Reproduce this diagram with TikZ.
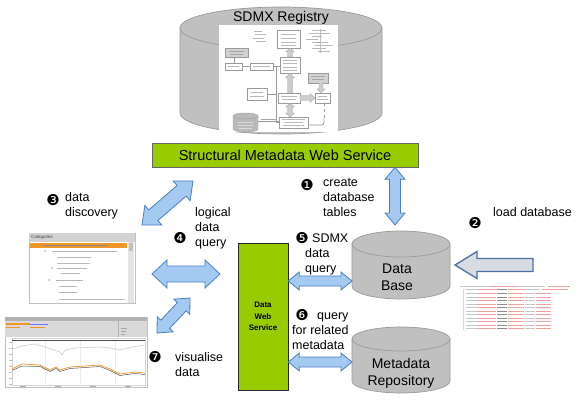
\documentclass[tikz,border=0pt]{standalone}
\usepackage{fontspec}
\setmainfont{Liberation Sans}
\newfontfamily\dingfont{DejaVu Sans}
\usetikzlibrary{calc}
\definecolor{sdmxgreen}{HTML}{99CC00}
\definecolor{arrowblue}{HTML}{A4CAF2}
\definecolor{arrowedge}{HTML}{4A7EC0}
\definecolor{cylfill}{HTML}{C0C0C0}
\definecolor{cyledge}{HTML}{9A9A9A}
\definecolor{loadfill}{HTML}{D8DCE2}
\definecolor{loadedge}{HTML}{4E6EA8}
\definecolor{shotgray}{HTML}{9A9A9A}
\definecolor{orangerow}{HTML}{F0952A}
\definecolor{xmlred}{HTML}{F0A09A}
% double-headed block arrow: style, A, B, shaft half width, head half width, head length
\newcommand\fatarrow[6]{%
 \draw[#1] (#2)
  -- ($(#2)!#6!(#3)!#5!90:(#3)$)
  -- ($(#2)!#6!(#3)!#4!90:(#3)$)
  -- ($(#3)!#6!(#2)!#4!-90:(#2)$)
  -- ($(#3)!#6!(#2)!#5!-90:(#2)$)
  -- (#3)
  -- ($(#3)!#6!(#2)!#5!90:(#2)$)
  -- ($(#3)!#6!(#2)!#4!90:(#2)$)
  -- ($(#2)!#6!(#3)!#4!-90:(#3)$)
  -- ($(#2)!#6!(#3)!#5!-90:(#3)$)
  -- cycle;}
% single-headed block arrow: style, tip, tail, shaft half width, head half width, head length
\newcommand\fatsingle[6]{%
 \draw[#1] (#2)
  -- ($(#2)!#6!(#3)!#5!90:(#3)$)
  -- ($(#2)!#6!(#3)!#4!90:(#3)$)
  -- ($(#3)!#4!-90:(#2)$)
  -- ($(#3)!#4!90:(#2)$)
  -- ($(#2)!#6!(#3)!#4!-90:(#3)$)
  -- ($(#2)!#6!(#3)!#5!-90:(#3)$)
  -- cycle;}
% cylinder: style, xl, xr, y top-ellipse centre, y bottom-ellipse centre, ry
\newcommand\drawcyl[6]{%
 \pgfmathsetmacro\cxc{(#2+#3)/2}%
 \pgfmathsetmacro\crx{(#3-#2)/2}%
 \filldraw[#1] (#2,#4) -- (#2,#5)
   .. controls (#2,#5+0.5523*#6) and (\cxc-0.5523*\crx,#5+#6) .. (\cxc,#5+#6)
   .. controls (\cxc+0.5523*\crx,#5+#6) and (#3,#5+0.5523*#6) .. (#3,#5)
   -- (#3,#4) -- cycle;
 \filldraw[#1] (\cxc,#4) ellipse [x radius=\crx pt, y radius=#6 pt];}
\begin{document}
\begin{tikzpicture}[x=1pt,y=-1pt,
  lbl/.style={font=\fontsize{12.5}{15}\selectfont, inner sep=0, anchor=base west},
  big/.style={font=\fontsize{14}{17}\selectfont, inner sep=0, anchor=base},
  numc/.style={font=\dingfont\fontsize{15}{15}\selectfont, inner sep=0},
  cylstyle/.style={fill=cylfill, draw=cyledge, line width=0.7pt},
  bluearrow/.style={fill=arrowblue, draw=arrowedge, line width=0.8pt, line join=miter},
  loadarrow/.style={fill=loadfill, draw=loadedge, line width=1.3pt, line join=miter},
  greenbox/.style={fill=sdmxgreen, draw=black!60, line width=0.6pt, inner sep=0},
  shotbox/.style={draw=shotgray, line width=0.4pt, fill=white},
  shotfill/.style={draw=shotgray, line width=0.4pt, fill=gray!35},
  txt/.style={draw=gray!55, line width=0.6pt},
  garrow/.style={fill=gray!40, draw=gray!70, line width=0.3pt}]
\useasboundingbox (0,0) rectangle (576,409);

% ---------------- SDMX Registry cylinder
\drawcyl{cylstyle}{180}{382}{28}{113}{21}
\node[big] (regtitle) at (281,22) {SDMX Registry};
% registry screenshot
\fill[white] (219,25) rectangle (338,132);
\draw[txt] (254,31)--(262,31) (255,34.5)--(266,34.5) (253,38)--(264,38) (256,41.5)--(266,41.5);
\draw[shotbox] (277,30) rectangle (300,48);
\foreach \yy in {34,38,42,45} \draw[txt] (281,\yy)--(296,\yy);
\foreach \yy/\xa/\xb in {30/312/326, 33/309/330, 36/312/322, 39/306/318, 42/312/328, 45/315/333, 48/312/326, 51/318/330}
  \draw[txt] (\xa,\yy)--(\xb,\yy);
\draw[gray!50, line width=0.4pt] (320,29)--(320,53);
\draw[shotfill] (225,48) rectangle (248,57);
\draw[gray!70, line width=0.6pt] (229,51)--(244,51) (230,54)--(243,54);
\draw[shotgray, line width=0.5pt] (234,57)--(234,63);
\draw[shotbox] (225,63) rectangle (242,70);
\draw[txt] (228,66.5)--(239,66.5);
\draw[shotbox] (250,63) rectangle (273,70);
\draw[txt] (253,66.5)--(270,66.5);
\draw[shotgray, line width=0.5pt] (242,66.5)--(250,66.5) (273,66.5)--(280,66.5);
\draw[shotbox] (280,57) rectangle (300,73);
\foreach \yy in {60,63.5,67,70} \draw[txt] (283,\yy)--(297,\yy);
\fatsingle{garrow}{290,48}{290,57}{2.5pt}{4.5pt}{4pt}
\draw[shotbox] (278,93) rectangle (300,103);
\draw[txt] (281,96.5)--(297,96.5) (282,99.5)--(296,99.5);
\fatsingle{garrow}{290,73}{290,93}{2.5pt}{4.5pt}{5pt}
\draw[shotbox] (279,117) rectangle (308,128);
\draw[txt] (282,119.5)--(305,119.5) (284,122.5)--(303,122.5) (283,125.5)--(304,125.5);
\fatarrow{garrow}{290,103}{290,117}{2.5pt}{4.5pt}{4pt}
\draw[shotfill] (308,73) rectangle (328,83);
\draw[gray!70, line width=0.6pt] (311,76.5)--(325,76.5) (312,79.5)--(324,79.5);
\fatsingle{garrow}{321,93}{321,83}{2pt}{4pt}{4pt}
\draw[shotbox] (315,93) rectangle (330,103);
\draw[txt] (318,96.5)--(327,96.5) (317,99.5)--(328,99.5);
\fatsingle{garrow}{315,98}{300,98}{2.5pt}{4.5pt}{5pt}
\draw[shotbox] (247,88) rectangle (267,100);
\draw[txt] (251,92)--(263,92) (250,96)--(264,96);
\draw[shotgray, line width=0.5pt] (267,94)--(276,94) (276,66.5)--(276,122)--(279,122);
\draw[shotgray, line width=0.5pt, dashed] (324,103)--(324,119);
\draw[shotgray, line width=0.8pt] (324,119) .. controls (324,125) .. (318,125) -- (308,125);
\draw[fill=gray!55, draw=gray!70, line width=0.4pt] (233,116) -- (233,129) .. controls (233,133) and (258,133) .. (258,129) -- (258,116) .. controls (258,112) and (233,112) .. (233,116) -- cycle;
\draw[gray!75, line width=0.4pt] (233,116) .. controls (233,120) and (258,120) .. (258,116);
\draw[gray!30, line width=0.6pt] (238,122)--(253,122) (237,125)--(254,125) (239,128)--(252,128);
\draw[shotgray, line width=0.4pt] (258,121)--(279,121);
\draw[gray!70, line width=0.6pt] (261,119)--(276,119);

% ---------------- Structural Metadata Web Service bar
\node[greenbox, minimum width=266pt, minimum height=24pt, font=\fontsize{14.5}{17}\selectfont] (smws) at (285,155) {Structural Metadata Web Service};

% ---------------- Data Web Service box
\node[greenbox, draw=black!85, minimum width=50pt, minimum height=147pt, align=center, font=\bfseries\fontsize{8}{11.5}\selectfont] (dws) at (263,316.5) {Data\\Web\\Service};

% ---------------- Data Base cylinder
\drawcyl{cylstyle}{352}{450}{244}{286}{13}
\node[big] (dbtext1) at (397,273) {Data};
\node[big] (dbtext2) at (397,290) {Base};

% ---------------- Metadata Repository cylinder
\drawcyl{cylstyle}{352}{450}{339}{381}{12}
\node[big] (mrtext1) at (401,368) {Metadata};
\node[big] (mrtext2) at (401,385) {Repository};

% ---------------- Categories screenshot
\fill[white] (29,233) rectangle (135,303);
\draw[gray!50, line width=0.5pt] (29,233) rectangle (135,303);
\fill[gray!35] (29,233) rectangle (135,242);
\node[font=\fontsize{4.5}{5}\selectfont, text=black!75, anchor=west, inner sep=0] (cathead) at (31,237.5) {Categories};
\fill[orangerow] (30,242.5) rectangle (127,248);
\draw[black!45, line width=0.8pt] (43,245.25)--(108,245.25);
\foreach \yy/\xa/\xb in {251/52/117, 257/57/91, 263/57/90, 268/57/87, 273/61/80, 280/56/83, 286/59/77, 292/59/77, 299/59/125}
  \draw[gray!55, line width=0.8pt] (\xa,\yy)--(\xb,\yy);
\foreach \yy/\xx in {251/45, 268/52, 280/49} \fill[gray!70] (\xx,\yy) circle (0.8);
\fill[gray!20] (128,242) rectangle (134,303);
\fill[gray!50] (129,243) rectangle (133,251);

% ---------------- Chart screenshot
\fill[white] (5,317) rectangle (147,387);
\draw[gray!50, line width=0.5pt] (5,317) rectangle (147,387);
\fill[gray!60] (5,317) rectangle (147,320.5);
\fill[gray!30] (5,320.5) rectangle (147,337);
\draw[orangerow, line width=1.2pt] (6,324)--(30,324);
\draw[blue!55, line width=1pt] (30,324)--(48,324);
\draw[orangerow, line width=1pt] (6,327.5)--(20,327.5) (30,327.5)--(45,327.5);
\draw[gray!60, line width=0.5pt] (118,320.5)--(118,337);
\draw[gray!70, line width=0.7pt] (121,328)--(127,328) (121,331)--(126,331) (121,334)--(125,334);
\fill[white] (12,338) rectangle (145,385);
\draw[gray!35, line width=0.4pt] (12,338) rectangle (145,385);
\foreach \xx in {45,80,115} \draw[gray!15, line width=0.4pt] (\xx,341)--(\xx,385);
\draw[black!70, line width=1.3pt] (12,340.5)--(145,340.5);
\draw[gray!40, line width=0.6pt] (12,349) -- (22,346) -- (35,344) -- (48,348) -- (60,352) -- (62,355) -- (65,350) -- (75,348) -- (100,347) -- (110,348) -- (120,350) -- (132,347) -- (145,345);
\draw[orangerow, line width=0.7pt] (12,369) -- (22,364) -- (40,365) -- (50,370) -- (56,367) -- (60,370) -- (70,367) -- (100,365) -- (110,369) -- (120,374) -- (135,372) -- (145,373);
\draw[gray!70!black, line width=0.5pt] (12,370.5) -- (22,366) -- (40,366.5) -- (50,371.5) -- (56,368.5) -- (60,371.5) -- (70,368.5) -- (100,366.5) -- (110,370.5) -- (120,375.5) -- (135,373.5) -- (145,374.5);
\foreach \yy in {342,348,...,384} \draw[gray!50, line width=0.4pt] (9,\yy)--(12,\yy);
\foreach \xx in {20,55,90,125} \draw[gray!60, line width=0.6pt] (\xx,386)--(\xx+6,386);

% ---------------- XML snippet
\draw[gray!30, line width=0.4pt] (463,289) -- (463,330);
\draw[gray!45, line width=0.6pt] (460,286)--(490,286) (515,286)--(545,286);
\draw[xmlred, line width=0.6pt] (490,286)--(515,286) (548,286)--(570,286);
\draw[gray!45, line width=0.6pt] (465,289.5)--(478,289.5) (525,289.5)--(540,289.5);
\draw[xmlred, line width=0.6pt] (478,289.5)--(497,289.5) (508,289.5)--(525,289.5) (542,289.5)--(568,289.5);
\draw[black!45, line width=0.6pt] (497,289.5)--(507,289.5);
\foreach \yy in {293.5,297,300.5,304,307.5,311,314.5,318,321.5,325,328.5}{
  \draw[gray!45, line width=0.6pt] (466,\yy)--(478,\yy) (525,\yy)--(535,\yy);
  \draw[xmlred, line width=0.6pt] (478,\yy)--(496,\yy) (508,\yy)--(524,\yy) (536,\yy)--(551,\yy);
  \draw[black!45, line width=0.6pt] (497,\yy)--(507,\yy);
}

% ---------------- block arrows
\coordinate (vTop) at (smws.south -| 395,0);
\coordinate (vBot) at (395,225);
\fatarrow{bluearrow}{vTop}{vBot}{5.5pt}{10pt}{12pt}
\coordinate (h5a) at (dws.east |- 0,281);
\coordinate (h5b) at (352,281);
\fatarrow{bluearrow}{h5a}{h5b}{5pt}{9pt}{11pt}
\coordinate (h6a) at (dws.east |- 0,362);
\coordinate (h6b) at (352,362);
\fatarrow{bluearrow}{h6a}{h6b}{5pt}{9pt}{11pt}
\coordinate (hLa) at (152,274);
\coordinate (hLb) at (220,274);
\fatarrow{bluearrow}{hLa}{hLb}{8pt}{14pt}{15pt}
\coordinate (d1a) at (142,225);
\coordinate (d1b) at (193,181);
\fatarrow{bluearrow}{d1a}{d1b}{7pt}{13pt}{15pt}
\coordinate (d2a) at (157,333);
\coordinate (d2b) at (190,298);
\fatarrow{bluearrow}{d2a}{d2b}{6pt}{11pt}{12pt}
\coordinate (ldTip) at (455,265);
\coordinate (ldTail) at (533,265);
\fatsingle{loadarrow}{ldTip}{ldTail}{6.5pt}{13.5pt}{22pt}

% ---------------- labels
\node[numc] (n3) at (53,200) {❸};
\node[lbl] (l3a) at (65,202) {data};
\node[lbl] (l3b) at (65,217) {discovery};
\node[numc] (n4) at (180,238) {❹};
\node[lbl] (l4a) at (195,217) {logical};
\node[lbl] (l4b) at (195,232) {data};
\node[lbl] (l4c) at (195,247) {query};
\node[numc] (n1) at (307,185) {❶};
\node[lbl] (l1a) at (323,186) {create};
\node[lbl] (l1b) at (323,201) {database};
\node[lbl] (l1c) at (323,216) {tables};
\node[numc] (n2) at (475,223) {❷};
\node[lbl] (l2) at (493,217) {load database};
\node[numc] (n5) at (302,238) {❺};
\node[lbl] (l5a) at (312,242) {SDMX};
\node[lbl] (l5b) at (305,257) {data};
\node[lbl] (l5c) at (305,272) {query};
\node[numc] (n6) at (302,315) {❻};
\node[lbl] (l6a) at (317,319) {query};
\node[lbl] (l6b) at (292,334) {for related};
\node[lbl] (l6c) at (292,349) {metadata};
\node[numc] (n7) at (155,357) {❼};
\node[lbl] (l7a) at (175,361) {visualise};
\node[lbl] (l7b) at (175,376) {data};
\end{tikzpicture}
\end{document}
